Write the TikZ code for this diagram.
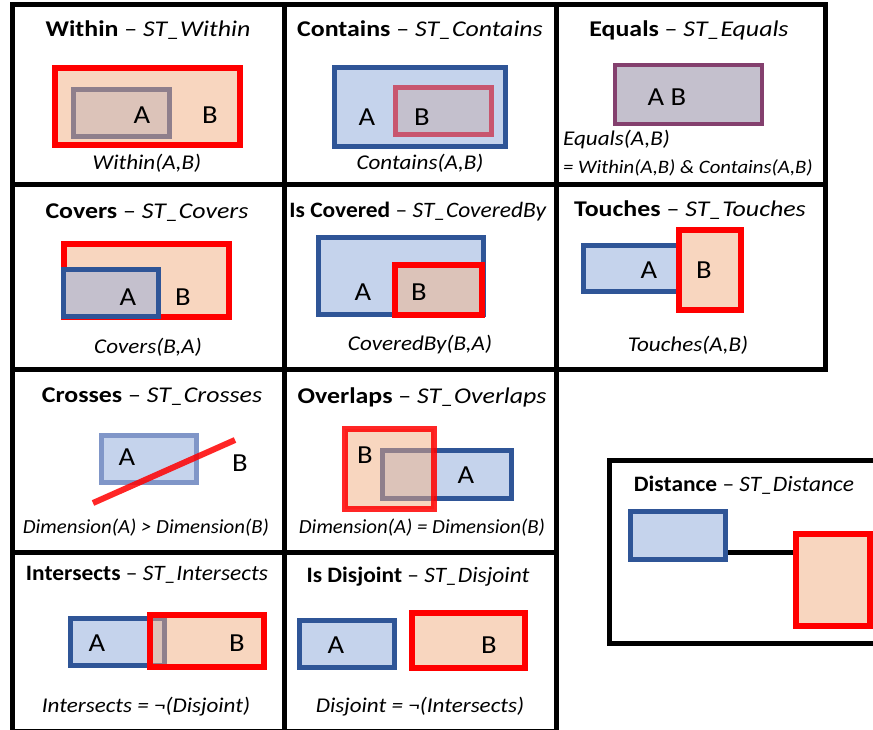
\documentclass[tikz,border=0pt]{standalone}
\usepackage{fontspec}
\setmainfont{Carlito}
\usepackage{tikz}
\usetikzlibrary{shapes.geometric, arrows}
\definecolor{blaa}{HTML}{2F5597}
\definecolor{lysblaa}{HTML}{C5D3EC}
\definecolor{fersken}{HTML}{F8D6BF}
\definecolor{blandAB}{HTML}{DCC3B9}
\definecolor{blandBA}{HTML}{C4C0CD}
\definecolor{kantAB}{HTML}{8F7F8C}
\definecolor{kantBA}{HTML}{C8566F}
\definecolor{kantlik}{HTML}{84406E}
\definecolor{kantlys}{HTML}{8096C8}
\tikzstyle{celle} = [draw=black, line width=5pt]
\tikzstyle{geomA} = [draw=blaa, fill=lysblaa, line width=5pt]
\tikzstyle{geomB} = [draw=red, fill=fersken, line width=6pt]
\tikzstyle{tittel} = [font=\fontsize{22.5}{26}\selectfont, inner sep=0pt, xscale=1.15]
\tikzstyle{tittelsmaa} = [font=\fontsize{22}{26}\selectfont, inner sep=0pt, xscale=1.065]
\tikzstyle{bokstav} = [font=\fontsize{26}{30}\selectfont, inner sep=0pt, xscale=1.1]
\tikzstyle{formel} = [font=\fontsize{21}{25}\selectfont\itshape, inner sep=0pt, xscale=1.1]
\tikzstyle{formelsmaa} = [font=\fontsize{19}{23}\selectfont\itshape, inner sep=0pt, anchor=west, xscale=1.09]
\tikzstyle{dimensjon} = [font=\fontsize{20}{24}\selectfont\itshape, inner sep=0pt, xscale=1.04]
\tikzstyle{forbindelse} = [draw=black, line width=5pt]

\begin{document}
\begin{tikzpicture}[x=1pt, y=-1pt]
				\useasboundingbox (0,0) rectangle (873,730);
				\clip (0,0) rectangle (873,730);
				\fill [white] (0,0) rectangle (873,730);
				
				\draw [celle] (12,5) rectangle (284,185);
				\draw [celle] (284,5) rectangle (556,185);
				\draw [celle] (556,5) rectangle (825,185);
				\draw [celle] (12,185) rectangle (284,369);
				\draw [celle] (284,185) rectangle (556,369);
				\draw [celle] (556,185) rectangle (825,369);
				\draw [celle] (12,369) rectangle (284,552);
				\draw [celle] (284,369) rectangle (556,552);
				\draw [celle] (12,552) rectangle (284,731);
				\draw [celle] (284,552) rectangle (556,731);
				\draw [celle] (609,460) rectangle (880,643);
				
				% Within
				\draw [geomB] (55,68) rectangle (240,145);
				\draw [geomA, draw=kantAB, fill=blandAB] (73.5,89.5) rectangle (169.5,136.5);
				\node (tittel1) [tittel] at (148,30) {\textbf{Within} -- \textit{ST\_Within}};
				\node (A1) [bokstav] at (142,115) {A};
				\node (B1) [bokstav] at (210,115) {B};
				\node (formel1) [formel] at (147,163) {Within(A,B)};
				
				% Contains
				\draw [geomA] (334.5,67.5) rectangle (505.5,146.5);
				\draw [geomA, draw=kantBA, fill=blandBA] (395.5,87.5) rectangle (491.5,134.5);
				\node (tittel2) [tittel] at (420,30) {\textbf{Contains} -- \textit{ST\_Contains}};
				\node (A2) [bokstav] at (367,117) {A};
				\node (B2) [bokstav] at (422,117) {B};
				\node (formel2) [formel] at (420,163) {Contains(A,B)};
				
				% Equals
				\draw [geomA, draw=kantlik, fill=blandBA, line width=4pt] (615,65) rectangle (762,124);
				\node (tittel3) [tittel] at (689,30) {\textbf{Equals} -- \textit{ST\_Equals}};
				\node (AB3) [bokstav] at (667,97) {A B};
				\node (formel3a) [formel, anchor=west] at (563,140) {Equals(A,B)};
				\node (formel3b) [formelsmaa] at (563,168) {= Within(A,B) \& Contains(A,B)};
				
				% Covers
				\draw [geomB] (63.5,244.5) rectangle (228.5,316.5);
				\draw [geomA, fill=blandBA] (63.5,269.5) rectangle (158.5,316.5);
				\node (tittel4) [tittel] at (147,213) {\textbf{Covers} -- \textit{ST\_Covers}};
				\node (A4) [bokstav] at (128,297) {A};
				\node (B4) [bokstav] at (183,297) {B};
				\node (formel4) [formel] at (148,347) {Covers(B,A)};
				
				% Is Covered
				\draw [geomA] (318.5,237.5) rectangle (483.5,314.5);
				\draw [geomB, fill=blandAB] (394.5,265.5) rectangle (481.5,314.5);
				\node (tittel5) [tittelsmaa] at (418,212) {\textbf{Is Covered} -- \textit{ST\_CoveredBy}};
				\node (A5) [bokstav] at (363,292) {A};
				\node (B5) [bokstav] at (419,292) {B};
				\node (formel5) [formel] at (420,345) {CoveredBy(B,A)};
				
				% Touches
				\draw [geomA] (583.5,245.5) rectangle (678,291.5);
				\draw [geomB] (678.5,230.5) rectangle (740.5,309.5);
				\node (tittel6) [tittel] at (690,210) {\textbf{Touches} -- \textit{ST\_Touches}};
				\node (A6) [bokstav] at (649,270) {A};
				\node (B6) [bokstav] at (704,270) {B};
				\node (formel6) [formel] at (688,345) {Touches(A,B)};
				
				% Crosses
				\draw [geomA, draw=kantlys] (101.5,435.5) rectangle (196.5,482.5);
				\draw [red, line width=6pt, opacity=0.85] (93,503) -- (235,440);
				\node (tittel7) [tittel] at (152,397) {\textbf{Crosses} -- \textit{ST\_Crosses}};
				\node (A7) [bokstav] at (127,457) {A};
				\node (B7) [bokstav] at (240,463) {B};
				\node (formel7) [dimensjon] at (146,528) {Dimension(A) > Dimension(B)};
				
				% Overlaps
				\fill [fersken] (344.5,428.5) rectangle (433.5,508.5);
				\draw [geomA] (382.5,450.5) rectangle (511.5,498.5);
				\begin{scope}
				\clip (344.5,428.5) rectangle (433.5,508.5);
				\draw [geomA, draw=kantAB, fill=blandAB] (382.5,450.5) rectangle (511.5,498.5);
				\end{scope}
				\draw [red, line width=6pt, opacity=0.85] (344.5,428.5) rectangle (433.5,508.5);
				\node (tittel8) [tittel] at (422,397) {\textbf{Overlaps} -- \textit{ST\_Overlaps}};
				\node (B8) [bokstav] at (365,455) {B};
				\node (A8) [bokstav] at (466,475) {A};
				\node (formel8) [dimensjon] at (422,528) {Dimension(A) = Dimension(B)};
				
				% Intersects
				\draw [geomA] (70.5,618.5) rectangle (164.5,665.5);
				\fill [fersken] (150,615) rectangle (264,667);
				\begin{scope}
				\clip (150,615) rectangle (264,667);
				\draw [geomA, draw=kantAB, fill=blandAB] (70.5,618.5) rectangle (164.5,665.5);
				\end{scope}
				\draw [red, line width=6pt] (150,615) rectangle (264,667);
				\node (tittel9) [tittelsmaa] at (147,575) {\textbf{Intersects} -- \textit{ST\_Intersects}};
				\node (A9) [bokstav] at (97,643) {A};
				\node (B9) [bokstav] at (237,643) {B};
				\node (formel9) [formel] at (146,707) {Intersects = ¬(Disjoint)};
				
				% Is Disjoint
				\draw [geomA] (299.5,620.5) rectangle (394.5,667.5);
				\draw [geomB] (412,613) rectangle (525,668);
				\node (tittel10) [tittelsmaa] at (418,577) {\textbf{Is Disjoint} -- \textit{ST\_Disjoint}};
				\node (A10) [bokstav] at (336,645) {A};
				\node (B10) [bokstav] at (489,645) {B};
				\node (formel10) [formel] at (420,707) {Disjoint = ¬(Intersects)};
				
				% Distance
				\node (tittel11) [tittelsmaa] at (744,485) {\textbf{Distance} -- \textit{ST\_Distance}};
				\node (dA) [geomA, rectangle, inner sep=0pt, minimum width=95pt, minimum height=48pt] at (678,535.5) {};
				\node (dB) [geomB, rectangle, inner sep=0pt, minimum width=74pt, minimum height=92pt] at (833,580) {};
				\draw [forbindelse] ([yshift=-16.5pt]dA.east) -- ([yshift=-16.5pt]dA.east -| dB.west);
				
				\end{tikzpicture}
\end{document}
